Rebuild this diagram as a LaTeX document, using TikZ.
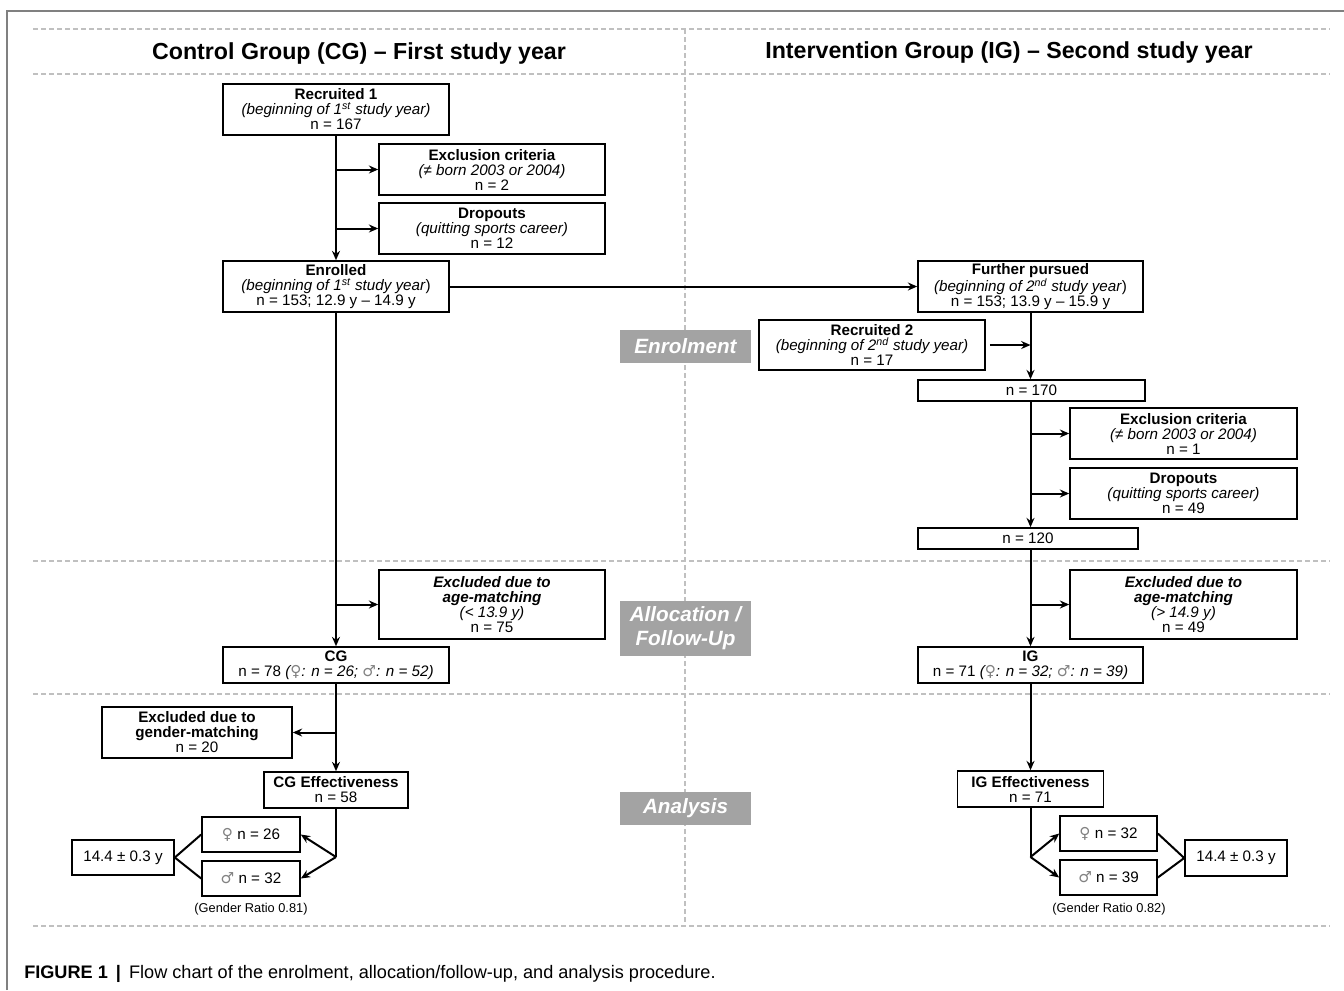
\documentclass[tikz,border=0pt]{standalone}
\usepackage{fontspec}
\setmainfont{Liberation Sans}
\newfontfamily\gsymfont{DejaVu Sans}
\usetikzlibrary{arrows.meta}
\definecolor{dashgray}{RGB}{192,192,192}
\definecolor{phasegray}{RGB}{163,163,163}
\definecolor{framegray}{RGB}{128,128,128}
\definecolor{symgray}{RGB}{130,130,130}
\newcommand\femsym{{\gsymfont\color{symgray}♀}}
\newcommand\malsym{{\gsymfont\color{symgray}♂}}
\begin{document}
\begin{tikzpicture}[x=0.75pt,y=-0.75pt,
  bx/.style={draw, line width=1.2pt, fill=white, align=center, inner sep=0pt, font=\fontsize{11.4}{11.25}\selectfont},
  wh/.style 2 args={minimum width=#1*0.75pt, minimum height=#2*0.75pt},
  arr/.style={line width=1.5pt, -{Stealth[length=7pt,width=6pt]}},
  ln/.style={line width=1.5pt},
  sep/.style={draw=dashgray, line width=1.1pt, dash pattern=on 4pt off 2pt},
  phase/.style={fill=phasegray, text=white, font=\fontsize{15.5}{18}\selectfont\bfseries\itshape, align=center, inner sep=0pt},
  hdr/.style={font=\fontsize{17.4}{20}\selectfont\bfseries},
  note/.style={font=\fontsize{9.6}{11}\selectfont}
]
\useasboundingbox (0,0) rectangle (1344,990);
% frame
\draw[framegray, line width=1.1pt] (7,990) -- (7,11) -- (1344,11);
% separators
\draw[sep] (33,29) -- (1330,29);
\draw[sep] (33,74) -- (1330,74);
\draw[sep] (33,561) -- (1330,561);
\draw[sep] (33,694) -- (1330,694);
\draw[sep] (33,926) -- (1330,926);
\draw[sep] (685,29) -- (685,926);
% headers
\node[hdr] (h1) at (359,53) {Control Group (CG) – First study year};
\node[hdr] (h2) at (1009,52) {Intervention Group (IG) – Second study year};
% phase labels
\node[phase, wh={131}{33}] (p1) at (685.5,346.5) {Enrolment};
\node[phase, wh={131}{55}] (p2) at (685.5,628.5) {Allocation /\\Follow-Up};
\node[phase, wh={131}{33}] (p3) at (685.5,808.5) {Analysis};
% left column
\node[bx, wh={226}{51}] (rec1) at (336,109.5) {\textbf{Recruited 1}\\\textit{(beginning of 1\textsuperscript{st} study year)}\\n = 167};
\node[bx, wh={226}{51}] (exc1) at (492,169.5) {\textbf{Exclusion criteria}\\\textit{(≠ born 2003 or 2004)}\\n = 2};
\node[bx, wh={226}{51}] (drop1) at (492,228.5) {\textbf{Dropouts}\\\textit{(quitting sports career)}\\n = 12};
\node[bx, wh={226}{51}] (enr) at (336,286.5) {\textbf{Enrolled}\\\textit{(beginning of 1\textsuperscript{st} study year})\\n = 153; 12.9 y – 14.9 y};
\node[bx, wh={226}{69}] (age1) at (492,604.5) {\textbf{\textit{Excluded due to}}\\\textbf{\textit{age-matching}}\\\textit{(< 13.9 y)}\\n = 75};
\node[bx, wh={226}{36}] (cg) at (336,665) {\textbf{CG}\\n = 78 \textit{(\femsym: n = 26; \malsym: n = 52)}};
\node[bx, wh={190}{51}] (gen) at (197,732.5) {\textbf{Excluded due to}\\\textbf{gender-matching}\\n = 20};
\node[bx, wh={144}{36}] (cgeff) at (336,790) {\textbf{CG Effectiveness}\\n = 58};
\node[bx, wh={98}{35}] (f1) at (251,834.5) {\femsym\ n = 26};
\node[bx, wh={98}{35}] (m1) at (251,878.5) {\malsym\ n = 32};
\node[bx, wh={102}{35}] (ag1) at (123,857.5) {14.4 ± 0.3 y};
\node[note] (gr1) at (251,909) {(Gender Ratio 0.81)};
% right column
\node[bx, wh={225}{51}] (fp) at (1030.5,286.5) {\textbf{Further pursued}\\\textit{(beginning of 2\textsuperscript{nd} study year})\\n = 153; 13.9 y – 15.9 y};
\node[bx, wh={226}{50}] (rec2) at (872,345) {\textbf{Recruited 2}\\\textit{(beginning of 2\textsuperscript{nd} study year)}\\n = 17};
\node[bx, wh={227}{21}] (n170) at (1031.5,390.5) {n = 170};
\node[bx, wh={227}{51}] (exc2) at (1183.5,433.5) {\textbf{Exclusion criteria}\\\textit{(≠ born 2003 or 2004)}\\n = 1};
\node[bx, wh={227}{51}] (drop2) at (1183.5,493.5) {\textbf{Dropouts}\\\textit{(quitting sports career)}\\n = 49};
\node[bx, wh={220}{21}] (n120) at (1028,538.5) {n = 120};
\node[bx, wh={227}{69}] (age2) at (1183.5,604.5) {\textbf{\textit{Excluded due to}}\\\textbf{\textit{age-matching}}\\\textit{(> 14.9 y)}\\n = 49};
\node[bx, wh={225}{36}] (ig) at (1030.5,665) {\textbf{IG}\\n = 71 \textit{(\femsym: n = 32; \malsym: n = 39)}};
\node[bx, wh={146}{36}] (igeff) at (1030.5,789) {\textbf{IG Effectiveness}\\n = 71};
\node[bx, wh={97}{35}] (f2) at (1108.5,833.5) {\femsym\ n = 32};
\node[bx, wh={97}{35}] (m2) at (1108.5,877.5) {\malsym\ n = 39};
\node[bx, wh={102}{36}] (ag2) at (1236,858) {14.4 ± 0.3 y};
\node[note] (gr2) at (1109,909) {(Gender Ratio 0.82)};
% caption
\node[anchor=west, inner sep=0pt, font=\fontsize{13.6}{16}\selectfont] (cap) at (24,974) {\textbf{FIGURE 1 \,\textbar\,} Flow chart of the enrolment, allocation/follow-up, and analysis procedure.};
% left connectors
\draw[arr] (rec1.south) -- (enr.north);
\draw[arr] (rec1.south |- exc1.west) -- (exc1.west);
\draw[arr] (rec1.south |- drop1.west) -- (drop1.west);
\draw[arr] (enr.south) -- (cg.north);
\draw[arr] (enr.south |- age1.west) -- (age1.west);
\draw[arr] (cg.south) -- (cgeff.north);
\draw[arr] (cg.south |- gen.east) -- (gen.east);
\coordinate (br1) at (336,857);
\draw[ln] (cgeff.south) -- (br1);
\draw[arr] (br1) -- (f1.east);
\draw[arr] (br1) -- (m1.east);
\draw[ln] (ag1.east) -- (f1.west);
\draw[ln] (ag1.east) -- (m1.west);
% cross connector
\draw[arr] (enr.east) -- (fp.west);
% right connectors
\draw[arr] (fp.south) -- (fp.south |- n170.north);
\draw[arr] ([xshift=3pt]rec2.east) -- (fp.south |- rec2.east);
\draw[arr] (fp.south |- n170.south) -- (fp.south |- n120.north);
\draw[arr] (fp.south |- exc2.west) -- (exc2.west);
\draw[arr] (fp.south |- drop2.west) -- (drop2.west);
\draw[arr] (fp.south |- n120.south) -- (ig.north);
\draw[arr] (fp.south |- age2.west) -- (age2.west);
\draw[arr] (ig.south) -- (igeff.north);
\coordinate (br2) at (1030.5,857);
\draw[ln] (igeff.south) -- (br2);
\draw[arr] (br2) -- (f2.west);
\draw[arr] (br2) -- (m2.west);
\draw[ln] (f2.east) -- (ag2.west);
\draw[ln] (m2.east) -- (ag2.west);
\end{tikzpicture}
\end{document}
